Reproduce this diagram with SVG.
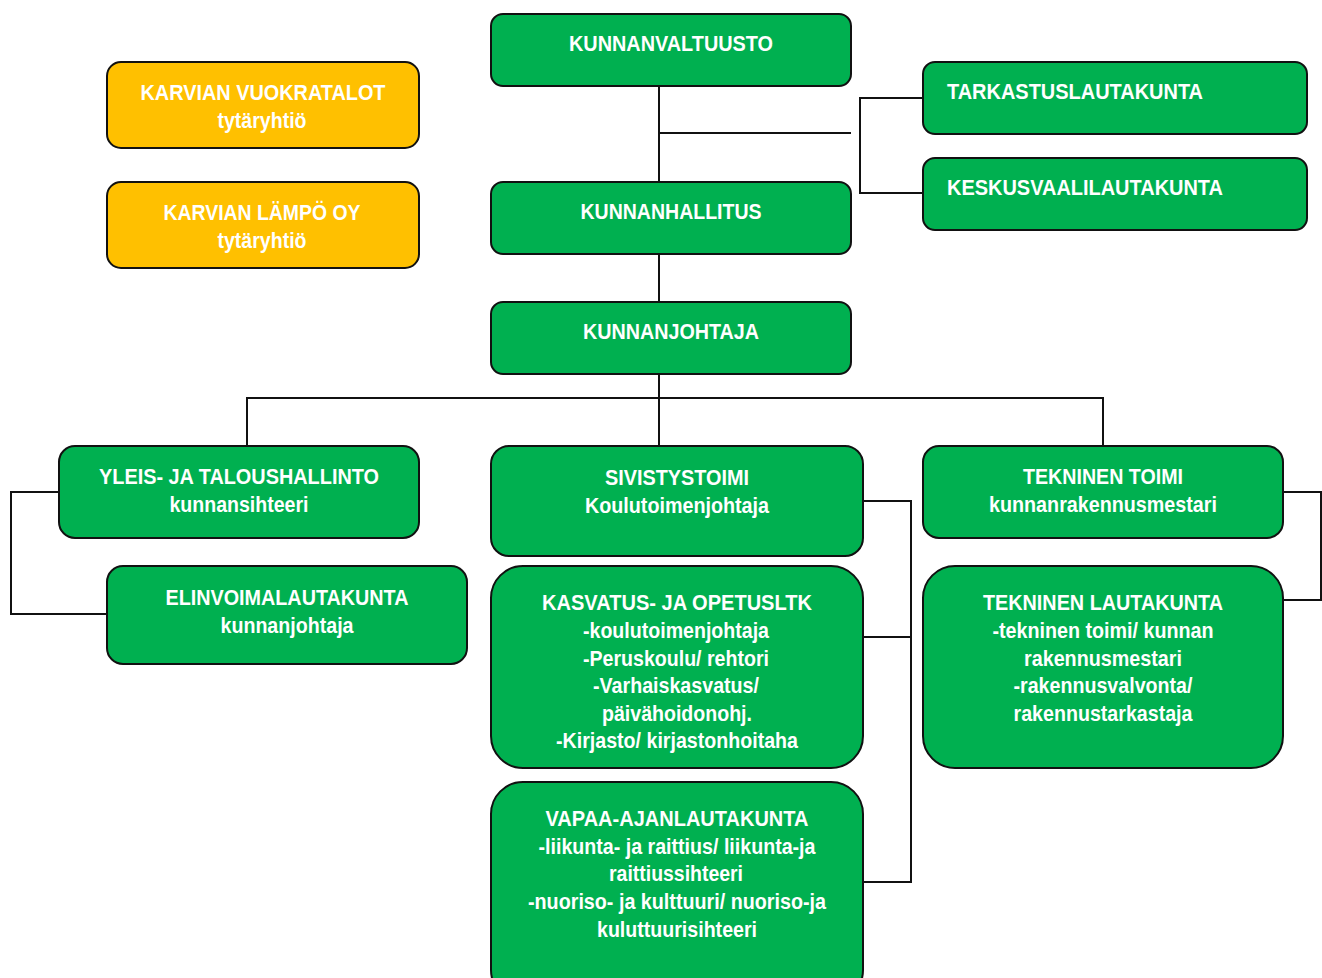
<svg xmlns="http://www.w3.org/2000/svg" width="1322" height="978" viewBox="0 0 1322 978">
<style>
.g{fill:#00B050;stroke:#111;stroke-width:2}
.o{fill:#FFC000;stroke:#111;stroke-width:2}
text{font-family:"Liberation Sans","Arial",sans-serif;font-weight:bold;font-size:22px;fill:#fff}
.c{text-anchor:middle}
.ln{fill:none;stroke:#111;stroke-width:2}
</style>
<rect width="1322" height="978" fill="#fff"/>
<g id="connectors" class="ln">
<path d="M659,86V182M659,133H851"/>
<path d="M923,98H860V193H923"/>
<path d="M659,254V302"/>
<path d="M659,374V446"/>
<path d="M247,446V398H1103V446"/>
<path d="M59,492H11V614H107"/>
<path d="M863,501H911V882H863M863,637H911"/>
<path d="M1283,492H1321V600H1283"/>
</g>
<g id="kunnanvaltuusto"><rect class="g" x="491" y="14" width="360" height="72" rx="12"/><text class="c" x="671" y="51" textLength="204" lengthAdjust="spacingAndGlyphs">KUNNANVALTUUSTO</text></g>
<g id="kunnanhallitus"><rect class="g" x="491" y="182" width="360" height="72" rx="12"/><text class="c" x="671" y="219" textLength="181" lengthAdjust="spacingAndGlyphs">KUNNANHALLITUS</text></g>
<g id="kunnanjohtaja"><rect class="g" x="491" y="302" width="360" height="72" rx="12"/><text class="c" x="671" y="339" textLength="176" lengthAdjust="spacingAndGlyphs">KUNNANJOHTAJA</text></g>
<g id="tarkastus"><rect class="g" x="923" y="62" width="384" height="72" rx="12"/><text x="947" y="99" textLength="256" lengthAdjust="spacingAndGlyphs">TARKASTUSLAUTAKUNTA</text></g>
<g id="keskusvaali"><rect class="g" x="923" y="158" width="384" height="72" rx="12"/><text x="947" y="195" textLength="276" lengthAdjust="spacingAndGlyphs">KESKUSVAALILAUTAKUNTA</text></g>
<g id="vuokratalot"><rect class="o" x="107" y="62" width="312" height="86" rx="14"/><text class="c" x="263" y="100" textLength="245" lengthAdjust="spacingAndGlyphs">KARVIAN VUOKRATALOT</text><text class="c" x="262" y="128" textLength="89" lengthAdjust="spacingAndGlyphs">tytäryhtiö</text></g>
<g id="lampo"><rect class="o" x="107" y="182" width="312" height="86" rx="14"/><text class="c" x="262" y="220" textLength="197" lengthAdjust="spacingAndGlyphs">KARVIAN LÄMPÖ OY</text><text class="c" x="262" y="248" textLength="89" lengthAdjust="spacingAndGlyphs">tytäryhtiö</text></g>
<g id="yleis"><rect class="g" x="59" y="446" width="360" height="92" rx="16"/><text class="c" x="239" y="484" textLength="280" lengthAdjust="spacingAndGlyphs">YLEIS- JA TALOUSHALLINTO</text><text class="c" x="239" y="512" textLength="139" lengthAdjust="spacingAndGlyphs">kunnansihteeri</text></g>
<g id="sivistys"><rect class="g" x="491" y="446" width="372" height="110" rx="18"/><text class="c" x="677" y="485" textLength="144" lengthAdjust="spacingAndGlyphs">SIVISTYSTOIMI</text><text class="c" x="677" y="513" textLength="184" lengthAdjust="spacingAndGlyphs">Koulutoimenjohtaja</text></g>
<g id="tekninentoimi"><rect class="g" x="923" y="446" width="360" height="92" rx="16"/><text class="c" x="1103" y="484" textLength="160" lengthAdjust="spacingAndGlyphs">TEKNINEN TOIMI</text><text class="c" x="1103" y="512" textLength="228" lengthAdjust="spacingAndGlyphs">kunnanrakennusmestari</text></g>
<g id="elinvoima"><rect class="g" x="107" y="566" width="360" height="98" rx="16"/><text class="c" x="287" y="605" textLength="243" lengthAdjust="spacingAndGlyphs">ELINVOIMALAUTAKUNTA</text><text class="c" x="287" y="633" textLength="133" lengthAdjust="spacingAndGlyphs">kunnanjohtaja</text></g>
<g id="kasvatus"><rect class="g" x="491" y="566" width="372" height="202" rx="32"/>
<text class="c" x="677" y="610" textLength="270" lengthAdjust="spacingAndGlyphs">KASVATUS- JA OPETUSLTK</text>
<text class="c" x="676" y="638" textLength="186" lengthAdjust="spacingAndGlyphs">-koulutoimenjohtaja</text>
<text class="c" x="676" y="666" textLength="186" lengthAdjust="spacingAndGlyphs">-Peruskoulu/ rehtori</text>
<text class="c" x="676" y="693" textLength="166" lengthAdjust="spacingAndGlyphs">-Varhaiskasvatus/</text>
<text class="c" x="677" y="721" textLength="150" lengthAdjust="spacingAndGlyphs">päivähoidonohj.</text>
<text class="c" x="677" y="748" textLength="242" lengthAdjust="spacingAndGlyphs">-Kirjasto/ kirjastonhoitaha</text></g>
<g id="vapaaajan"><rect class="g" x="491" y="782" width="372" height="220" rx="32"/>
<text class="c" x="677" y="826" textLength="263" lengthAdjust="spacingAndGlyphs">VAPAA-AJANLAUTAKUNTA</text>
<text class="c" x="677" y="854" textLength="277" lengthAdjust="spacingAndGlyphs">-liikunta- ja raittius/ liikunta-ja</text>
<text class="c" x="676" y="881" textLength="134" lengthAdjust="spacingAndGlyphs">raittiussihteeri</text>
<text class="c" x="677" y="909" textLength="298" lengthAdjust="spacingAndGlyphs">-nuoriso- ja kulttuuri/ nuoriso-ja</text>
<text class="c" x="677" y="937" textLength="160" lengthAdjust="spacingAndGlyphs">kuluttuurisihteeri</text></g>
<g id="tekninenltk"><rect class="g" x="923" y="566" width="360" height="202" rx="32"/>
<text class="c" x="1103" y="610" textLength="240" lengthAdjust="spacingAndGlyphs">TEKNINEN LAUTAKUNTA</text>
<text class="c" x="1103" y="638" textLength="221" lengthAdjust="spacingAndGlyphs">-tekninen toimi/ kunnan</text>
<text class="c" x="1103" y="666" textLength="158" lengthAdjust="spacingAndGlyphs">rakennusmestari</text>
<text class="c" x="1103" y="693" textLength="179" lengthAdjust="spacingAndGlyphs">-rakennusvalvonta/</text>
<text class="c" x="1103" y="721" textLength="179" lengthAdjust="spacingAndGlyphs">rakennustarkastaja</text></g>
</svg>
